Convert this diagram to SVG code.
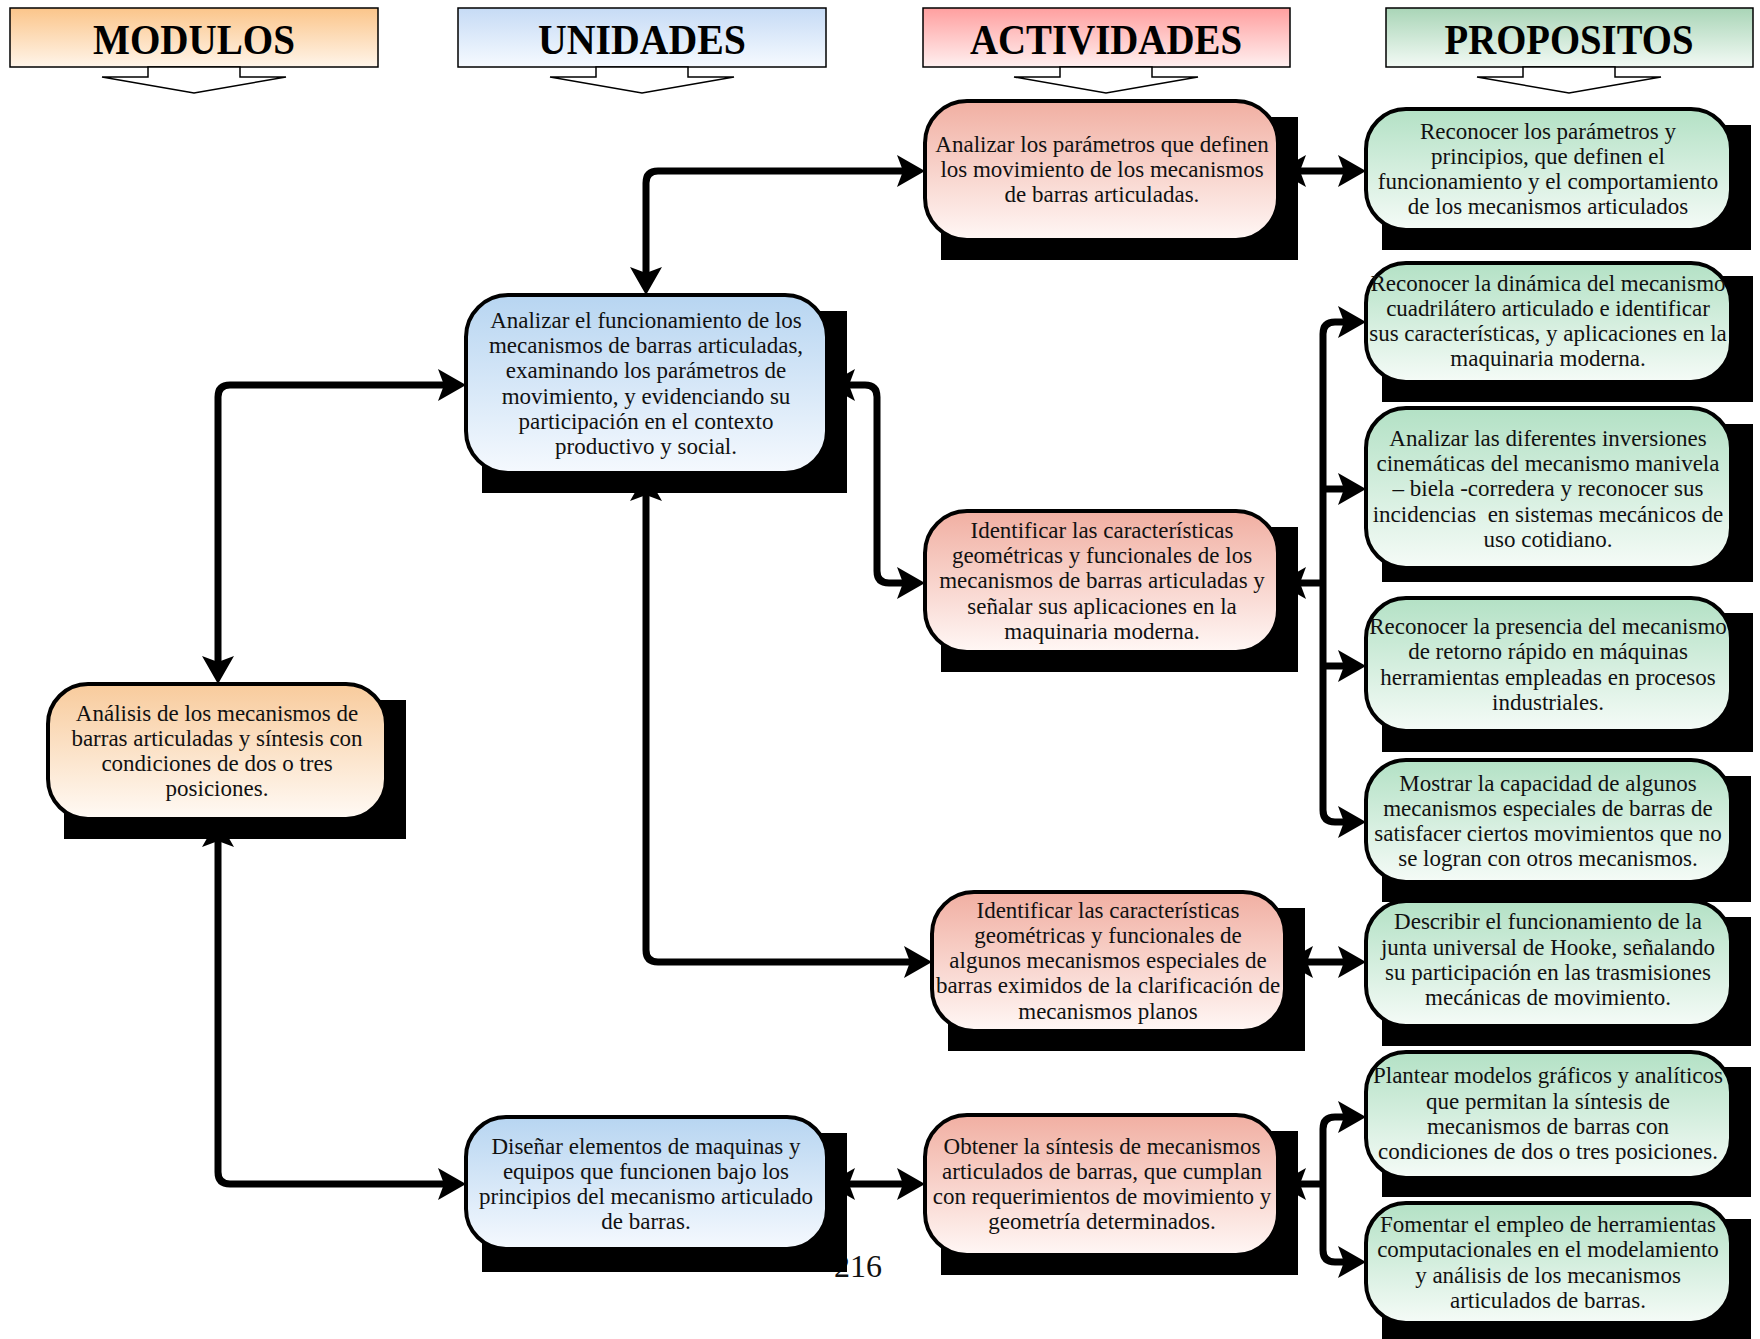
<svg xmlns="http://www.w3.org/2000/svg" width="1760" height="1339" viewBox="0 0 1760 1339">
<defs>
<linearGradient id="hO" x1="0" y1="0" x2="0" y2="1"><stop offset="0" stop-color="#fbc58a"/><stop offset="1" stop-color="#fff5ea"/></linearGradient>
<linearGradient id="hB" x1="0" y1="0" x2="0" y2="1"><stop offset="0" stop-color="#c6dbf5"/><stop offset="1" stop-color="#f6faff"/></linearGradient>
<linearGradient id="hR" x1="0" y1="0" x2="0" y2="1"><stop offset="0" stop-color="#ff9f9f"/><stop offset="1" stop-color="#fff0f0"/></linearGradient>
<linearGradient id="hG" x1="0" y1="0" x2="0" y2="1"><stop offset="0" stop-color="#a9d5b7"/><stop offset="1" stop-color="#f3faf5"/></linearGradient>
<linearGradient id="gO" x1="0" y1="0" x2="0" y2="1"><stop offset="0" stop-color="#f8cb9c"/><stop offset="1" stop-color="#fffaf5"/></linearGradient>
<linearGradient id="gB" x1="0" y1="0" x2="0" y2="1"><stop offset="0" stop-color="#b7d5f1"/><stop offset="1" stop-color="#f5f9fe"/></linearGradient>
<linearGradient id="gR" x1="0" y1="0" x2="0" y2="1"><stop offset="0" stop-color="#f1afa2"/><stop offset="1" stop-color="#fff7f5"/></linearGradient>
<linearGradient id="gG" x1="0" y1="0" x2="0" y2="1"><stop offset="0" stop-color="#b3e1c5"/><stop offset="1" stop-color="#f5fbf7"/></linearGradient>
<marker id="ah" markerUnits="userSpaceOnUse" markerWidth="40" markerHeight="40" refX="8" refY="16" orient="auto-start-reverse">
<path d="M28,16 L0,0 L6,16 L0,32 z" fill="#000"/>
</marker>
<style>
.hbox{stroke:#000;stroke-width:1.5}
.harrow{fill:#fff;stroke:#000;stroke-width:1.5;stroke-linejoin:miter}
.htext{font-family:"Liberation Serif",serif;font-weight:bold;font-size:42px;fill:#000;text-anchor:middle}
.shadow{fill:#000}
.node{stroke:#000;stroke-width:4}
.t{font-family:"Liberation Serif",serif;font-size:23px;fill:#111;text-anchor:middle}
.c{fill:none;stroke:#000;stroke-width:7;stroke-linejoin:round}
.ca{marker-start:url(#ah);marker-end:url(#ah)}
.ce{marker-end:url(#ah)}
</style>
</defs>
<rect width="1760" height="1339" fill="#fff"/>

<g id="h-modulos">
<rect class="hbox" x="10" y="8" width="368" height="59" fill="url(#hO)"/>
<polygon class="harrow" points="148,67 148,77 102,77 194,93 286,77 240,77 240,67"/>
<text class="htext" x="194" y="54" textLength="202" lengthAdjust="spacingAndGlyphs">MODULOS</text>
</g>
<g id="h-unidades">
<rect class="hbox" x="458" y="8" width="368" height="59" fill="url(#hB)"/>
<polygon class="harrow" points="596,67 596,77 550,77 642,93 734,77 688,77 688,67"/>
<text class="htext" x="642" y="54" textLength="208" lengthAdjust="spacingAndGlyphs">UNIDADES</text>
</g>
<g id="h-actividades">
<rect class="hbox" x="923" y="8" width="367" height="59" fill="url(#hR)"/>
<polygon class="harrow" points="1060,67 1060,77 1014,77 1106,93 1198,77 1152,77 1152,67"/>
<text class="htext" x="1106" y="54" textLength="272" lengthAdjust="spacingAndGlyphs">ACTIVIDADES</text>
</g>
<g id="h-propositos">
<rect class="hbox" x="1386" y="8" width="367" height="59" fill="url(#hG)"/>
<polygon class="harrow" points="1523,67 1523,77 1477,77 1569,93 1661,77 1615,77 1615,67"/>
<text class="htext" x="1569" y="54" textLength="249" lengthAdjust="spacingAndGlyphs">PROPOSITOS</text>
</g>

<text id="page-number" x="858" y="1277" font-family="Liberation Serif, serif" font-size="32" text-anchor="middle" fill="#111">216</text>

<g id="n-m1">
<rect class="shadow" x="64" y="700" width="342" height="139"/>
<rect class="node" x="48" y="684" width="338" height="135" rx="40" fill="url(#gO)"/>
<text class="t"><tspan x="217" y="721">Análisis de los mecanismos de</tspan><tspan x="217" y="746">barras articuladas y síntesis con</tspan><tspan x="217" y="771">condiciones de dos o tres</tspan><tspan x="217" y="796">posiciones.</tspan></text>
</g>

<g id="n-u1">
<rect class="shadow" x="482" y="311" width="365" height="182"/>
<rect class="node" x="466" y="295" width="361" height="178" rx="42" fill="url(#gB)"/>
<text class="t"><tspan x="646" y="328">Analizar el funcionamiento de los</tspan><tspan x="646" y="353">mecanismos de barras articuladas,</tspan><tspan x="646" y="378">examinando los parámetros de</tspan><tspan x="646" y="404">movimiento, y evidenciando su</tspan><tspan x="646" y="429">participación en el contexto</tspan><tspan x="646" y="454">productivo y social.</tspan></text>
</g>

<g id="n-u2">
<rect class="shadow" x="482" y="1133" width="365" height="139"/>
<rect class="node" x="466" y="1117" width="361" height="132" rx="40" fill="url(#gB)"/>
<text class="t"><tspan x="646" y="1154">Diseñar elementos de maquinas y</tspan><tspan x="646" y="1179">equipos que funcionen bajo los</tspan><tspan x="646" y="1204">principios del mecanismo articulado</tspan><tspan x="646" y="1229">de barras.</tspan></text>
</g>

<g id="n-a1">
<rect class="shadow" x="941" y="117" width="357" height="143"/>
<rect class="node" x="925" y="101" width="353" height="139" rx="42" fill="url(#gR)"/>
<text class="t"><tspan x="1102" y="152">Analizar los parámetros que definen</tspan><tspan x="1102" y="177">los movimiento de los mecanismos</tspan><tspan x="1102" y="202">de barras articuladas.</tspan></text>
</g>

<g id="n-a2">
<rect class="shadow" x="941" y="527" width="357" height="145"/>
<rect class="node" x="925" y="511" width="353" height="141" rx="42" fill="url(#gR)"/>
<text class="t"><tspan x="1102" y="538">Identificar las características</tspan><tspan x="1102" y="563">geométricas y funcionales de los</tspan><tspan x="1102" y="588">mecanismos de barras articuladas y</tspan><tspan x="1102" y="614">señalar sus aplicaciones en la</tspan><tspan x="1102" y="639">maquinaria moderna.</tspan></text>
</g>

<g id="n-a3">
<rect class="shadow" x="948" y="908" width="357" height="143"/>
<rect class="node" x="932" y="892" width="353" height="139" rx="42" fill="url(#gR)"/>
<text class="t"><tspan x="1108" y="918">Identificar las características</tspan><tspan x="1108" y="943">geométricas y funcionales de</tspan><tspan x="1108" y="968">algunos mecanismos especiales de</tspan><tspan x="1108" y="993">barras eximidos de la clarificación de</tspan><tspan x="1108" y="1019">mecanismos planos</tspan></text>
</g>

<g id="n-a4">
<rect class="shadow" x="941" y="1131" width="357" height="144"/>
<rect class="node" x="925" y="1115" width="353" height="140" rx="42" fill="url(#gR)"/>
<text class="t"><tspan x="1102" y="1154">Obtener la síntesis de mecanismos</tspan><tspan x="1102" y="1179">articulados de barras, que cumplan</tspan><tspan x="1102" y="1204">con requerimientos de movimiento y</tspan><tspan x="1102" y="1229">geometría determinados.</tspan></text>
</g>

<g id="n-p1">
<rect class="shadow" x="1382" y="125" width="369" height="125"/>
<rect class="node" x="1366" y="109" width="365" height="121" rx="40" fill="url(#gG)"/>
<text class="t"><tspan x="1548" y="139">Reconocer los parámetros y</tspan><tspan x="1548" y="164">principios, que definen el</tspan><tspan x="1548" y="189">funcionamiento y el comportamiento</tspan><tspan x="1548" y="214">de los mecanismos articulados</tspan></text>
</g>

<g id="n-p2">
<rect class="shadow" x="1382" y="276" width="371" height="126"/>
<rect class="node" x="1366" y="263" width="365" height="119" rx="40" fill="url(#gG)"/>
<text class="t"><tspan x="1548" y="291">Reconocer la dinámica del mecanismo</tspan><tspan x="1548" y="316">cuadrilátero articulado e identificar</tspan><tspan x="1548" y="341">sus características, y aplicaciones en la</tspan><tspan x="1548" y="366">maquinaria moderna.</tspan></text>
</g>

<g id="n-p3">
<rect class="shadow" x="1382" y="424" width="371" height="158"/>
<rect class="node" x="1366" y="408" width="365" height="160" rx="40" fill="url(#gG)"/>
<text class="t"><tspan x="1548" y="446">Analizar las diferentes inversiones</tspan><tspan x="1548" y="471">cinemáticas del mecanismo manivela</tspan><tspan x="1548" y="496">– biela -corredera y reconocer sus</tspan><tspan x="1548" y="522" xml:space="preserve">incidencias  en sistemas mecánicos de</tspan><tspan x="1548" y="547">uso cotidiano.</tspan></text>
</g>

<g id="n-p4">
<rect class="shadow" x="1382" y="613" width="371" height="139"/>
<rect class="node" x="1366" y="598" width="365" height="133" rx="40" fill="url(#gG)"/>
<text class="t"><tspan x="1548" y="634">Reconocer la presencia del mecanismo</tspan><tspan x="1548" y="659">de retorno rápido en máquinas</tspan><tspan x="1548" y="685">herramientas empleadas en procesos</tspan><tspan x="1548" y="710">industriales.</tspan></text>
</g>

<g id="n-p5">
<rect class="shadow" x="1382" y="776" width="369" height="126"/>
<rect class="node" x="1366" y="760" width="365" height="122" rx="40" fill="url(#gG)"/>
<text class="t"><tspan x="1548" y="791">Mostrar la capacidad de algunos</tspan><tspan x="1548" y="816">mecanismos especiales de barras de</tspan><tspan x="1548" y="841">satisfacer ciertos movimientos que no</tspan><tspan x="1548" y="866">se logran con otros mecanismos.</tspan></text>
</g>

<g id="n-p6">
<rect class="shadow" x="1382" y="917" width="369" height="129"/>
<rect class="node" x="1366" y="901" width="365" height="125" rx="40" fill="url(#gG)"/>
<text class="t"><tspan x="1548" y="929">Describir el funcionamiento de la</tspan><tspan x="1548" y="955">junta universal de Hooke, señalando</tspan><tspan x="1548" y="980">su participación en las trasmisiones</tspan><tspan x="1548" y="1005">mecánicas de movimiento.</tspan></text>
</g>

<g id="n-p7">
<rect class="shadow" x="1382" y="1067" width="369" height="130"/>
<rect class="node" x="1366" y="1052" width="365" height="126" rx="40" fill="url(#gG)"/>
<text class="t"><tspan x="1548" y="1083">Plantear modelos gráficos y analíticos</tspan><tspan x="1548" y="1109">que permitan la síntesis de</tspan><tspan x="1548" y="1134">mecanismos de barras con</tspan><tspan x="1548" y="1159">condiciones de dos o tres posiciones.</tspan></text>
</g>

<g id="n-p8">
<rect class="shadow" x="1382" y="1219" width="369" height="124"/>
<rect class="node" x="1366" y="1203" width="365" height="120" rx="40" fill="url(#gG)"/>
<text class="t"><tspan x="1548" y="1232">Fomentar el empleo de herramientas</tspan><tspan x="1548" y="1257">computacionales en el modelamiento</tspan><tspan x="1548" y="1283">y análisis de los mecanismos</tspan><tspan x="1548" y="1308">articulados de barras.</tspan></text>
</g>

<g id="connectors">
<path class="c ca" d="M646,275 V183 Q646,171 658,171 H905"/>
<path class="c ca" d="M218,664 V397 Q218,385 230,385 H446"/>
<path class="c ca" d="M847,385 H865 Q877,385 877,397 V571 Q877,583 889,583 H905"/>
<path class="c ca" d="M646,493 V950 Q646,962 658,962 H912"/>
<path class="c ca" d="M218,839 V1172 Q218,1184 230,1184 H446"/>
<path class="c ca" d="M847,1184 H905"/>
<path class="c ca" d="M1298,171 H1346"/>
<path class="c ce" d="M1323,583 H1298"/>
<path class="c ca" d="M1346,322 H1335 Q1323,322 1323,334 V810 Q1323,822 1335,822 H1346"/>
<path class="c ce" d="M1323,489 H1346"/>
<path class="c ce" d="M1323,666 H1346"/>
<path class="c ca" d="M1305,962 H1346"/>
<path class="c ce" d="M1323,1184 H1298"/>
<path class="c ca" d="M1346,1117 H1335 Q1323,1117 1323,1129 V1250 Q1323,1262 1335,1262 H1346"/>
</g>
</svg>
